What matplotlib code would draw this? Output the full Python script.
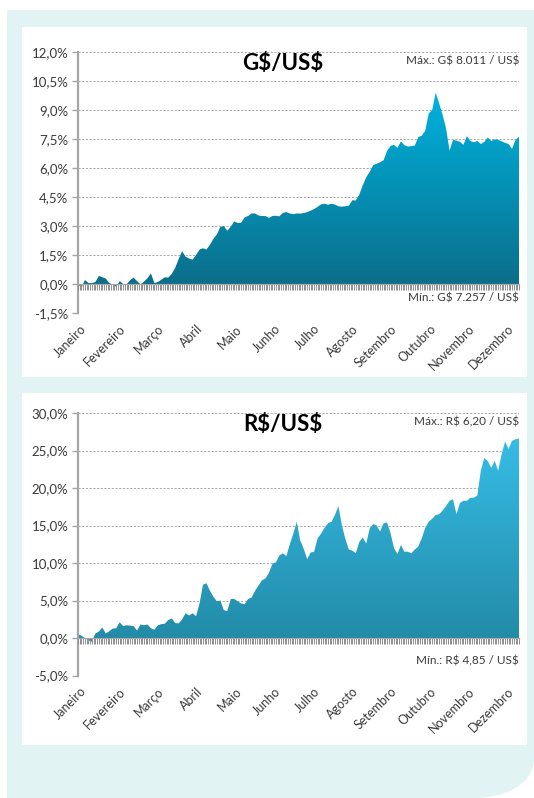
import numpy as np
import matplotlib
matplotlib.use("Agg")
import matplotlib.pyplot as plt
from matplotlib.colors import LinearSegmentedColormap
from matplotlib.patches import Rectangle, PathPatch
from matplotlib.path import Path

plt.rcParams['font.family'] = ['Lato', 'DejaVu Sans']
plt.rcParams['text.parse_math'] = False

# ---------------- data ----------------
months = ['Janeiro', 'Fevereiro', 'Março', 'Abril', 'Maio', 'Junho', 'Julho',
          'Agosto', 'Setembro', 'Outubro', 'Novembro', 'Dezembro']

pyg_usd = [0.00, -0.20, 0.21, 0.05, 0.05, 0.10, 0.42, 0.35, 0.28, 0.05,
           -0.03, -0.14, 0.15, 0.00, -0.02, 0.20, 0.33, 0.15, -0.02, 0.12,
           0.30, 0.55, 0.05, 0.10, 0.22, 0.35, 0.33, 0.52, 0.84, 1.30,
           1.70, 1.41, 1.32, 1.26, 1.50, 1.78, 1.85, 1.78, 2.03, 2.34,
           2.57, 2.95, 3.00, 2.75, 2.97, 3.24, 3.15, 3.17, 3.45, 3.52,
           3.65, 3.65, 3.54, 3.52, 3.51, 3.42, 3.52, 3.53, 3.50, 3.68,
           3.72, 3.65, 3.61, 3.65, 3.64, 3.67, 3.72, 3.79, 3.88, 3.99,
           4.12, 4.15, 4.10, 4.15, 4.11, 4.02, 4.00, 4.02, 4.05, 4.33,
           4.32, 4.62, 5.10, 5.52, 5.80, 6.15, 6.22, 6.30, 6.40, 6.88,
           7.14, 7.20, 7.04, 7.38, 7.18, 7.11, 7.13, 7.16, 7.60, 7.67,
           7.93, 8.82, 9.00, 9.90, 9.35, 8.75, 8.05, 6.90, 7.45, 7.42,
           7.35, 7.20, 7.65, 7.40, 7.33, 7.40, 7.24, 7.35, 7.58, 7.40,
           7.48, 7.46, 7.38, 7.30, 7.24, 6.99, 7.45, 7.62]

brl_usd = [0.50, 0.30, 0.00, -0.30, -0.50, 0.60, 0.85, 1.40, 0.60, 0.90,
           1.25, 1.30, 2.10, 1.60, 1.70, 1.65, 1.60, 1.00, 1.80, 1.70,
           1.80, 1.30, 1.10, 1.70, 1.85, 1.90, 2.40, 2.60, 2.00, 1.95,
           2.50, 3.30, 3.00, 3.30, 2.90, 4.60, 7.10, 7.30, 6.30, 5.50,
           4.90, 5.00, 3.70, 3.60, 5.20, 5.20, 4.90, 4.60, 4.50, 5.20,
           5.40, 6.30, 7.00, 7.70, 7.95, 8.70, 9.90, 10.10, 11.00, 11.30,
           10.90, 12.50, 13.90, 15.50, 13.00, 11.90, 10.50, 11.40, 11.50, 13.30,
           13.90, 14.70, 15.30, 15.50, 16.40, 17.60, 15.00, 13.20, 11.80, 11.65,
           11.30, 12.80, 13.40, 12.60, 14.60, 15.20, 15.00, 14.20, 15.30, 15.40,
           14.00, 12.00, 11.20, 12.40, 11.50, 11.50, 11.30, 11.80, 12.20, 13.30,
           14.70, 15.50, 15.90, 16.40, 16.50, 17.00, 17.60, 18.30, 18.50, 16.50,
           18.00, 18.30, 18.30, 18.70, 18.70, 19.00, 22.30, 24.00, 23.60, 22.70,
           23.60, 22.30, 24.50, 26.20, 25.20, 26.30, 26.50, 26.60]

titles = ['G$/US$', 'R$/US$']
max_texts = ['Máx.: G$ 8.011 / US$', 'Máx.: R$ 6,20 / US$']
min_texts = ['Mín.: G$ 7.257 / US$', 'Mín.: R$ 4,85 / US$']

# ---------------- figure ----------------
W, H = 534, 798
fig = plt.figure(figsize=(W / 100, H / 100), dpi=100, facecolor='white')


def fx(px):
    return px / W


def fy(py):
    return 1 - py / H


# teal background with rounded bottom-right corner
bg_pts = [(7, 10), (534, 10), (534, 758), (534, 786), (502, 798), (474, 798),
          (7, 798), (7, 10)]
bg_codes = [Path.MOVETO, Path.LINETO, Path.LINETO, Path.CURVE4, Path.CURVE4,
            Path.CURVE4, Path.LINETO, Path.CLOSEPOLY]
bg_path = Path([(fx(a), fy(b)) for a, b in bg_pts], bg_codes)
fig.add_artist(PathPatch(bg_path, transform=fig.transFigure,
                         facecolor='#e1f3f3', edgecolor='none', zorder=-3))

# white panels
for top, bot in [(27, 377), (393, 745)]:
    fig.add_artist(Rectangle((fx(22), fy(bot)), fx(527) - fx(22), (bot - top) / H,
                             transform=fig.transFigure, facecolor='white',
                             edgecolor='none', zorder=-2))

axes_px = [(78, 52, 519, 313), (78, 413, 519, 675.5)]
ranges = [(-1.5, 12.0, 1.5), (-5.0, 30.0, 5.0)]
colors = [('#00b3df', '#0b6d89'), ('#36bde6', '#228aa7')]
series = [pyg_usd, brl_usd]

GRAY = '#a6a6a6'
TXT = '#3a3a3a'

for k in range(2):
    l, t, r, b = axes_px[k]
    ax = fig.add_axes([fx(l), fy(b), (r - l) / W, (b - t) / H])
    ax.set_facecolor('none')
    ymin, ymax, step = ranges[k]
    v = np.array(series[k])
    x = np.arange(len(v))

    poly = ax.fill_between(x, 0, v, facecolor='none', edgecolor='none')
    path = poly.get_paths()[0]
    cmap = LinearSegmentedColormap.from_list('g%d' % k, [colors[k][1], colors[k][0]])
    grad = np.linspace(0, 1, 256).reshape(-1, 1)
    im = ax.imshow(grad, cmap=cmap, aspect='auto', origin='lower',
                   extent=[0, len(v) - 1, v.min(), v.max()], zorder=2,
                   interpolation='bilinear')
    im.set_clip_path(path, transform=ax.transData)

    ax.set_xlim(0, len(v) - 1)
    ax.set_ylim(ymin, ymax)

    yt = np.arange(ymin, ymax + step / 2, step)
    ax.set_yticks(yt)
    ax.set_yticklabels([('%.1f%%' % val).replace('.', ',') for val in yt])
    ax.tick_params(axis='y', length=4, width=1, color=GRAY, labelsize=9.5,
                   labelcolor=TXT, pad=3)
    ax.set_axisbelow(True)
    ax.yaxis.grid(True, color='#a9a9a9', linestyle=(0, (2.2, 1.6)), linewidth=0.7)

    for s in ['top', 'right', 'bottom']:
        ax.spines[s].set_visible(False)
    ax.spines['left'].set_color(GRAY)
    ax.spines['left'].set_linewidth(1.6)

    month_pos = np.linspace(0.6, 123.6, len(months))
    ax.set_xticks(month_pos)
    ax.set_xticklabels(months, rotation=45, ha='right', rotation_mode='anchor',
                       fontsize=9, color=TXT)
    ax.tick_params(axis='x', length=0, pad=7)

    # category axis crossing at zero with a tick per trading day
    frac = (0 - ymin) / (ymax - ymin)
    sec = ax.secondary_xaxis(frac)
    sec.set_xticks(np.arange(0, len(v) - 0.9, 0.5))
    sec.set_xticklabels([])
    sec.tick_params(axis='x', length=4, width=0.7, color='#8f8f8f', direction='out')
    sec.spines['bottom'].set_color(GRAY)
    sec.spines['bottom'].set_linewidth(0.9)
    sec.set_zorder(3)

    hgt = b - t
    ax.text((283 - l) / (r - l), 1 - 11.5 / hgt, titles[k], transform=ax.transAxes,
            ha='center', va='center', fontsize=16, fontweight='bold', color='black')
    ax.text(1.0, 1 - 9 / hgt, max_texts[k], transform=ax.transAxes,
            ha='right', va='center', fontsize=8.5, color=TXT)
    ax.text(1.0, 14.5 / hgt, min_texts[k], transform=ax.transAxes,
            ha='right', va='center', fontsize=8.5, color=TXT)

fig.savefig('out.png', dpi=100, facecolor='white')
